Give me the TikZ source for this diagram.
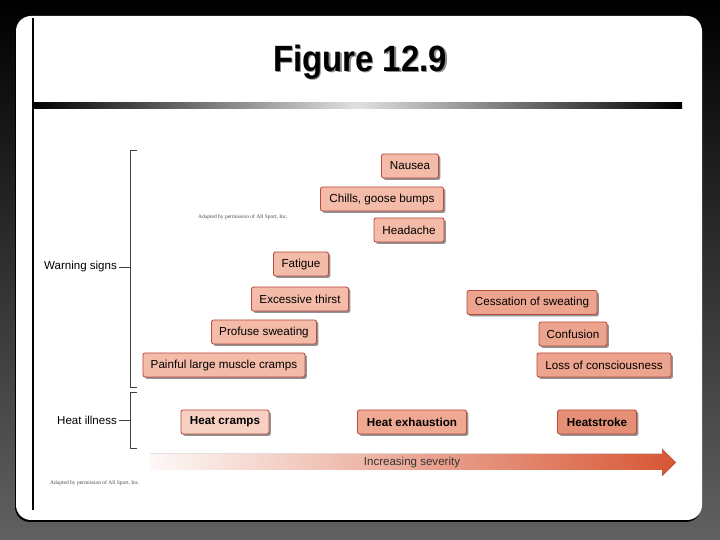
\documentclass[tikz,border=0pt]{standalone}
\usepackage{fontspec}
\setmainfont{Liberation Sans}
\newfontfamily\cimfont[FakeStretch=0.9]{Liberation Sans}
\newfontfamily\forrasfont{Liberation Serif}
\usetikzlibrary{positioning,shadows}
\definecolor{keret}{HTML}{B84A3E}
\definecolor{lazac}{HTML}{F3BBA8}
\definecolor{lazacs}{HTML}{EDA48E}
\definecolor{hk1}{HTML}{F7D0C2}
\definecolor{hk2}{HTML}{EFA993}
\definecolor{hk3}{HTML}{E48F76}
\definecolor{nyilvege}{HTML}{D75634}
\tikzset{
  tunet/.style={draw=keret,semithick,rounded corners=1.5pt,fill=lazac,inner sep=0pt,
                minimum height=6mm,font=\fontsize{8.3}{10}\selectfont,
                drop shadow={shadow xshift=1.3pt,shadow yshift=-1.3pt,fill=black!60,opacity=.7}},
  kor/.style={tunet,font=\fontsize{8.3}{10}\selectfont\bfseries},
  felirat/.style={font=\fontsize{8.2}{10}\selectfont,anchor=east,inner sep=1pt},
  zarojel/.style={draw=black!75,line width=.5pt},
  forras/.style={font=\forrasfont\fontsize{3.9}{4.5}\selectfont,text=black!70},
}
\begin{document}
\begin{tikzpicture}[x=0.25mm,y=0.25mm]
  \useasboundingbox (0,0) rectangle (720,540);
  % hatter, lap
  \shade[top color=black,bottom color=black!62] (0,0) rectangle (720,540);
  \fill[black,rounded corners=3.75mm] (15,18) rectangle (701,523);
  \fill[white,rounded corners=3.75mm] (16,20) rectangle (702,524);
  \draw[line width=.8pt] (33,30) -- (33,522);
  \shade[left color=black,right color=black,middle color=black!12] (33,431) rectangle (682,437);
  \node[text=black!45,font=\cimfont\bfseries\fontsize{26}{30}\selectfont] at (361.5,476.5) {Figure 12.9};
  \node[font=\cimfont\bfseries\fontsize{26}{30}\selectfont] (cim) at (360,478) {Figure 12.9};
  % 1. figyelmezteto jelek
  \node[tunet,minimum width=14.25mm] (nausea) at (410,374) {Nausea};
  \node[tunet,minimum width=30.75mm] (hideg) at (382,341) {Chills, goose bumps};
  \node[tunet,minimum width=17.5mm] (fejfajas) at (409,310) {Headache};
  \node[tunet,minimum width=13.75mm] (faradt) at (301,276) {Fatigue};
  \node[tunet,minimum width=24.25mm] (szomj) at (300,241) {Excessive thirst};
  \node[tunet,minimum width=26.25mm] (izzad) at (264,208) {Profuse sweating};
  \node[tunet,minimum width=40.5mm] (gorcs) at (224,175) {Painful large muscle cramps};
  \node[tunet,fill=lazacs,minimum width=32.5mm] (megszun) at (532,237.5) {Cessation of sweating};
  \node[tunet,fill=lazacs,minimum width=17mm] (zavart) at (573,206) {Confusion};
  \node[tunet,fill=lazacs,minimum width=33.5mm] (eszm) at (604,175) {Loss of consciousness};
  % 2. hosegbetegsegek
  \node[kor,fill=hk1,minimum width=22mm] (hgorcs) at (225,118) {Heat cramps};
  \node[kor,fill=hk2,minimum width=27.25mm] (hkim) at (412,118) {Heat exhaustion};
  \node[kor,fill=hk3,minimum width=19.75mm] (hguta) at (597,118) {Heatstroke};
  % 3. zarojelek
  \draw[zarojel] (137,390) -- (130,390) -- (130,153) -- (137,153);
  \coordinate (wsk) at (130,273);
  \node[felirat] (ws) at (118.5,273) {Warning signs};
  \draw[zarojel] (ws.east) -- (wsk);
  \draw[zarojel] (137,148) -- (130,148) -- (130,92) -- (137,92);
  \coordinate (hik) at (130,120);
  \node[felirat] (hi) at (118.5,120) {Heat illness};
  \draw[zarojel] (hi.east) -- (hik);
  % 4. sulyossag nyil
  \fill[left color=nyilvege!4,right color=nyilvege] (150,70) -- (662,70) -- (662,64) -- (676,77.5)
    -- (662,91) -- (662,86) -- (150,86) -- cycle;
  \node[font=\fontsize{8.2}{10}\selectfont,text=black!80] (sulyos) at (412,77) {Increasing severity};
  % forras
  \node[forras] (f1) at (243,323) {Adapted by permission of All Sport, Inc.};
  \node[forras] (f2) at (95,57) {Adapted by permission of All Sport, Inc.};
\end{tikzpicture}
\end{document}
